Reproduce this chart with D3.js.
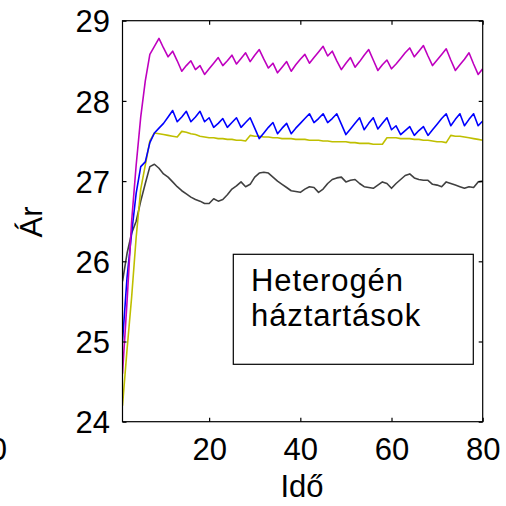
<!DOCTYPE html>
<html><head><meta charset="utf-8">
<script src="https://cdn.jsdelivr.net/npm/d3@7/dist/d3.min.js"></script>
<style>body{margin:0;background:#fff}svg{display:block}text{font-family:"Liberation Sans",Arial,sans-serif;fill:#000}</style>
</head><body>
<script>
const xTicks = [20, 40, 60, 80];
const yTicks = [24, 25, 26, 27, 28, 29];
const legendLines = ["Heterogén", "háztartások"];
const xLabel = "Idő";
const yLabel = "Ár";
const magenta = [24.6,25.5,26.5,27.2,27.8,28.25,28.58,28.68,28.78,28.66,28.55,28.62,28.5,28.37,28.44,28.5,28.39,28.44,28.33,28.4,
28.47,28.54,28.44,28.5,28.57,28.46,28.53,28.6,28.49,28.57,28.64,28.52,28.41,28.47,28.35,28.42,28.49,28.37,28.45,28.52,
28.58,28.47,28.54,28.61,28.68,28.56,28.62,28.5,28.39,28.47,28.54,28.42,28.49,28.57,28.64,28.51,28.38,28.45,28.51,28.4,
28.46,28.53,28.6,28.66,28.55,28.62,28.69,28.56,28.44,28.51,28.58,28.65,28.51,28.38,28.45,28.52,28.6,28.46,28.33,28.4];
const blue = [25.0,25.8,26.35,26.85,27.18,27.24,27.48,27.6,27.66,27.72,27.8,27.88,27.74,27.8,27.87,27.74,27.8,27.87,27.74,27.79,
27.67,27.72,27.78,27.67,27.73,27.79,27.67,27.73,27.79,27.66,27.53,27.6,27.67,27.73,27.59,27.66,27.72,27.59,27.66,27.72,
27.78,27.84,27.73,27.78,27.84,27.73,27.78,27.84,27.71,27.58,27.65,27.72,27.79,27.64,27.72,27.79,27.65,27.72,27.79,27.64,
27.69,27.58,27.63,27.68,27.57,27.63,27.68,27.57,27.64,27.71,27.78,27.84,27.69,27.77,27.84,27.69,27.77,27.84,27.69,27.75];
const yellow = [24.2,24.9,25.55,26.3,26.9,27.2,27.5,27.6,27.59,27.58,27.57,27.56,27.55,27.62,27.61,27.59,27.58,27.56,27.55,27.54,
27.54,27.53,27.53,27.52,27.52,27.51,27.51,27.5,27.57,27.56,27.56,27.55,27.55,27.54,27.54,27.53,27.53,27.53,27.52,27.52,
27.52,27.51,27.51,27.51,27.5,27.5,27.49,27.49,27.49,27.49,27.48,27.48,27.47,27.47,27.47,27.46,27.46,27.46,27.54,27.54,
27.54,27.53,27.53,27.53,27.52,27.52,27.51,27.51,27.5,27.49,27.49,27.48,27.57,27.56,27.56,27.55,27.54,27.53,27.52,27.51];
const gray = [25.75,26.1,26.35,26.5,26.75,26.97,27.18,27.21,27.16,27.09,27.05,26.99,26.93,26.88,26.84,26.8,26.77,26.75,26.72,26.72,
26.78,26.75,26.77,26.83,26.9,26.94,26.99,26.93,26.96,27.05,27.1,27.11,27.1,27.05,27.0,26.96,26.92,26.88,26.87,26.86,
26.9,26.93,26.92,26.86,26.9,26.97,27.02,27.04,27.05,26.99,27.01,27.02,26.97,26.93,26.92,26.91,26.95,26.99,26.97,26.91,
26.97,27.02,27.07,27.09,27.04,27.02,27.01,27.01,26.96,26.95,26.93,26.99,26.97,26.95,26.93,26.91,26.93,26.92,26.99,27.0];
const series = [
  {name:"gray", values:gray, color:"#404040"},
  {name:"yellow", values:yellow, color:"#bfbf00"},
  {name:"blue", values:blue, color:"#0000ff"},
  {name:"magenta", values:magenta, color:"#bf00bf"}
];

const W = 506, H = 506;
const L = 122.5, R = 482.7, T = 20.7, B = 421.7;
const svg = d3.select("body").append("svg").attr("width", W).attr("height", H);
const x = d3.scaleLinear().domain([1, 80]).range([L, R]);
const y = d3.scaleLinear().domain([24, 29]).range([B, T]);
const fs = 31;

const line = d3.line().x((d, i) => x(i + 1)).y(d => y(d));
const clip = svg.append("clipPath").attr("id","c").append("rect").attr("x",L).attr("y",T).attr("width",R-L).attr("height",B-T);
const g = svg.append("g").attr("clip-path","url(#c)");
series.forEach(s => {
  g.append("path").datum(s.values).attr("d", line).attr("fill","none")
   .attr("stroke", s.color).attr("stroke-width", 1.6).attr("stroke-linejoin","round");
});

// box
svg.append("rect").attr("x",L).attr("y",T).attr("width",R-L).attr("height",B-T)
  .attr("fill","none").attr("stroke","#000").attr("stroke-width",1.2);

// axes with inward ticks
const ax = d3.axisBottom(x).tickValues(xTicks).tickSize(-4).tickPadding(14).tickFormat(d3.format("d"));
const axB = svg.append("g").attr("transform",`translate(0,${B})`).call(ax);
const axT = svg.append("g").attr("transform",`translate(0,${T})`).call(d3.axisTop(x).tickValues(xTicks).tickSize(-4).tickFormat(""));
const ay = d3.axisLeft(y).tickValues(yTicks).tickSize(-4).tickPadding(12).tickFormat(d3.format("d"));
const axL = svg.append("g").attr("transform",`translate(${L},0)`).call(ay);
const axR = svg.append("g").attr("transform",`translate(${R},0)`).call(d3.axisRight(y).tickValues(yTicks).tickSize(-4).tickFormat(""));
[axB, axT, axL, axR].forEach(a => {
  a.select(".domain").remove();
  a.selectAll(".tick line").attr("stroke","#000").attr("stroke-width",1.2);
  a.selectAll("text").attr("font-size", fs).attr("font-family","Liberation Sans, Arial, sans-serif").attr("fill","#000");
});
axB.selectAll(".tick text").attr("dy", null).attr("y", null).attr("transform","translate(0,38)");
axL.selectAll(".tick text").attr("dy","0.36em").attr("x",-12.5);

// partial label from neighbouring panel
svg.append("text").attr("x",7).attr("y",B+38).attr("text-anchor","end").attr("font-size",fs).text("0");

// axis titles
svg.append("text").attr("x",302).attr("y",497).attr("text-anchor","middle").attr("font-size",fs).text(xLabel);
svg.append("text").attr("transform","translate(42,222) rotate(-90)").attr("text-anchor","middle").attr("font-size",fs).text(yLabel);

// legend box
svg.append("rect").attr("x",233.3).attr("y",254.3).attr("width",240).attr("height",110)
  .attr("fill","#fff").attr("stroke","#000").attr("stroke-width",1.2);
legendLines.forEach((t, i) => {
  svg.append("text").attr("x",251).attr("y",291 + i*35).attr("font-size",fs).attr("letter-spacing","0.9px").text(t);
});
</script>
</body></html>
